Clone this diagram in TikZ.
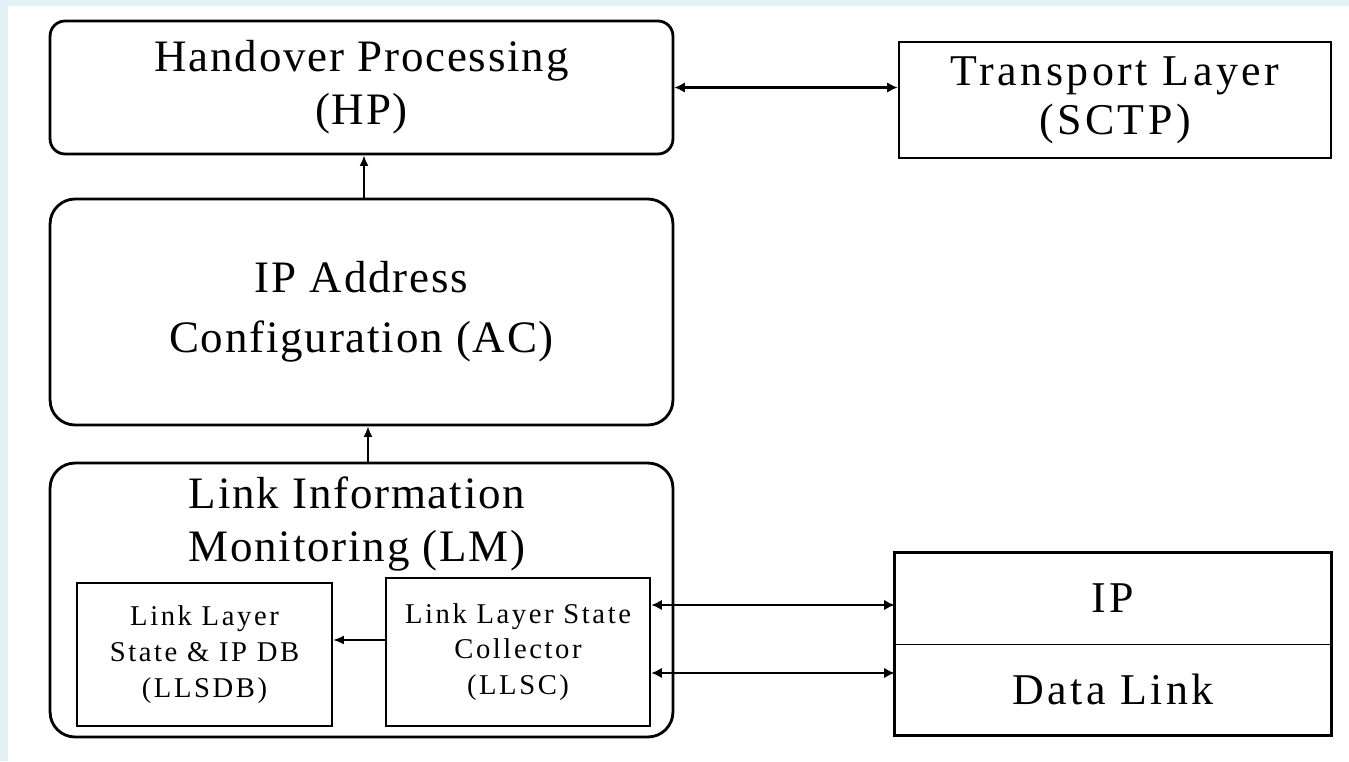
\documentclass[tikz,border=0pt]{standalone}
\usepackage{fontspec}
\setmainfont{Liberation Serif}
\newfontfamily\boxfont{Liberation Serif}[LetterSpace=4]
\newfontfamily\layerfont{Liberation Serif}[LetterSpace=8]
\newfontfamily\partfont{Liberation Serif}[LetterSpace=9]
\usetikzlibrary{positioning,arrows.meta,calc}
\definecolor{edgeblue}{HTML}{E2F1F6}

\begin{document}
\begin{tikzpicture}[x=0.02cm, y=-0.02cm,
    module/.style={draw, line width=1.6pt, align=center, minimum width=12.46cm,
      font=\boxfont\fontsize{25.6}{30}\selectfont},
    layer/.style={align=center, minimum width=8.72cm,
      font=\layerfont\fontsize{25}{28}\selectfont},
    part/.style={draw, line width=1.5pt, align=center,
      font=\partfont\fontsize{16.3}{20.4}\selectfont},
    link/.style={-{Latex[length=6pt,width=5pt]}, line width=0.8pt},
    dlink/.style={{Latex[length=6pt,width=6pt]}-{Latex[length=6pt,width=6pt]}, line width=1.6pt}]
    \useasboundingbox (0,0) rectangle (1349,761);
    \fill[white] (0,0) rectangle (1349,761);
    \fill[edgeblue] (0,0) rectangle (1349,6);
    \fill[edgeblue] (0,0) rectangle (8,761);
    % modules on the left
    \node[module, rounded corners=0.3cm, minimum height=2.66cm] (hp) at (361.5,87.5) {Handover Processing\\(HP)};
    \node[module, rounded corners=0.5cm, minimum height=4.52cm] (ac) at (361.5,312) {IP Address\\[4pt]Configuration (AC)};
    \node[module, rounded corners=0.5cm, minimum height=5.48cm] (lm) at (361.5,600) {};
    \node[font=\boxfont\fontsize{25.6}{30}\selectfont, align=center] (lmtitle) at (357,524) {Link Information\\Monitoring (LM)};
    \node[part, minimum width=5.1cm, minimum height=2.86cm] (llsdb) at (204.5,654.5) {Link Layer\\State \& IP DB\\(LLSDB)};
    \node[part, minimum width=5.28cm, minimum height=2.96cm] (llsc) at (518,652) {Link Layer State\\Collector\\(LLSC)};
    % layers on the right
    \node[draw, line width=1.6pt, layer, minimum width=8.64cm, minimum height=2.32cm] (tl) at (1115,100) {Transport Layer\\(SCTP)};
    \node[layer, minimum height=1.82cm] (ip) at (1113,598.5) {IP};
    \node[layer, minimum height=1.82cm] (dl) at (1113,689.5) {Data Link};
    \draw[line width=0.8pt] (ip.south west) -- (ip.south east);
    \draw[line width=1.6pt] (ip.north west) rectangle (dl.south east);
    % connectors
    \draw[link] ([xshift=0.05cm]ac.north) -- ([xshift=0.05cm]hp.south);
    \draw[link] ([xshift=0.13cm]lm.north) -- ([xshift=0.13cm]ac.south);
    \coordinate (dbin) at ($(llsc.west)+(0,-12)$);
    \draw[link] (dbin) -- (dbin -| llsdb.east);
    \draw[dlink] (hp.east) -- (hp.east -| tl.west);
    \coordinate (ipin) at ($(llsc.east)+(0,-47)$);
    \coordinate (dlin) at ($(llsc.east)+(0,21)$);
    \draw[dlink] (ipin) -- (ipin -| ip.west);
    \draw[dlink] (dlin) -- (dlin -| dl.west);
\end{tikzpicture}
\end{document}
